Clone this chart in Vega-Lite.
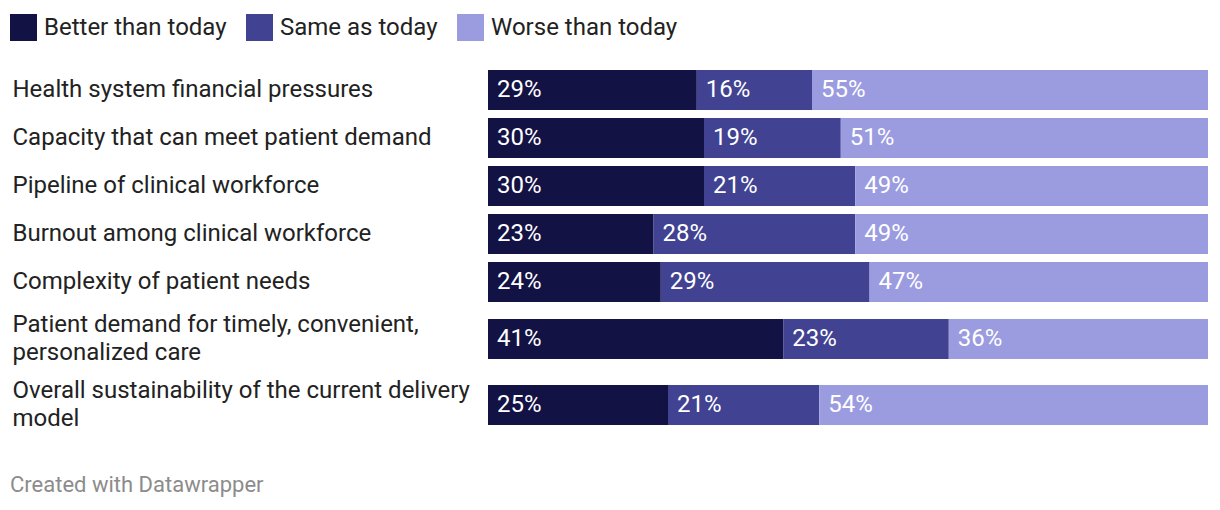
{
  "$schema": "https://vega.github.io/schema/vega-lite/v6.json",
  "padding": {"left": 10, "top": 14, "right": 12, "bottom": 10},
  "background": "white",
  "config": {
    "font": "Roboto",
    "view": {"stroke": null},
    "concat": {"spacing": 0}
  },
  "datasets": {
    "top": [
      {"question": "Health system financial pressures", "response": "Better than today", "value": 0.29},
      {"question": "Health system financial pressures", "response": "Same as today", "value": 0.16},
      {"question": "Health system financial pressures", "response": "Worse than today", "value": 0.55},
      {"question": "Capacity that can meet patient demand", "response": "Better than today", "value": 0.30},
      {"question": "Capacity that can meet patient demand", "response": "Same as today", "value": 0.19},
      {"question": "Capacity that can meet patient demand", "response": "Worse than today", "value": 0.51},
      {"question": "Pipeline of clinical workforce", "response": "Better than today", "value": 0.30},
      {"question": "Pipeline of clinical workforce", "response": "Same as today", "value": 0.21},
      {"question": "Pipeline of clinical workforce", "response": "Worse than today", "value": 0.49},
      {"question": "Burnout among clinical workforce", "response": "Better than today", "value": 0.23},
      {"question": "Burnout among clinical workforce", "response": "Same as today", "value": 0.28},
      {"question": "Burnout among clinical workforce", "response": "Worse than today", "value": 0.49},
      {"question": "Complexity of patient needs", "response": "Better than today", "value": 0.24},
      {"question": "Complexity of patient needs", "response": "Same as today", "value": 0.29},
      {"question": "Complexity of patient needs", "response": "Worse than today", "value": 0.47}
    ],
    "bottom": [
      {"question": "Patient demand for timely, convenient,|personalized care", "response": "Better than today", "value": 0.41},
      {"question": "Patient demand for timely, convenient,|personalized care", "response": "Same as today", "value": 0.23},
      {"question": "Patient demand for timely, convenient,|personalized care", "response": "Worse than today", "value": 0.36},
      {"question": "Overall sustainability of the current delivery|model", "response": "Better than today", "value": 0.25},
      {"question": "Overall sustainability of the current delivery|model", "response": "Same as today", "value": 0.21},
      {"question": "Overall sustainability of the current delivery|model", "response": "Worse than today", "value": 0.54}
    ]
  },
  "title": {
    "text": "Created with Datawrapper",
    "orient": "bottom",
    "anchor": "start",
    "frame": "bounds",
    "fontSize": 22,
    "fontWeight": "normal",
    "color": "#8c8c8c",
    "offset": 37
  },
  "vconcat": [
    {
      "data": {"name": "top"},
      "width": 720,
      "height": 240,
      "transform": [
        {"stack": "value", "groupby": ["question"], "sort": [{"field": "response", "order": "ascending"}], "as": ["x0", "x1"]}
      ],
      "encoding": {
        "y": {
          "field": "question", "type": "nominal", "sort": null,
          "scale": {"paddingInner": 0.16667, "paddingOuter": 0.08333},
          "axis": {
            "title": null, "domain": false, "ticks": false,
            "labelAlign": "left", "labelPadding": 476, "labelFontSize": 24,
            "labelColor": "#222222", "labelLimit": 480, "labelLineHeight": 28,
            "labelExpr": "split(datum.label, '|')", "labelBaseline": "middle"
          }
        }
      },
      "layer": [
        {
          "mark": {"type": "bar"},
          "encoding": {
            "x": {"field": "x0", "type": "quantitative", "scale": {"domain": [0, 1], "nice": false}, "axis": null},
            "x2": {"field": "x1"},
            "color": {
              "field": "response", "type": "nominal",
              "scale": {"domain": ["Better than today", "Same as today", "Worse than today"], "range": ["#131244", "#414291", "#9b9be0"]},
              "legend": {
                "title": null, "orient": "none", "legendX": -478, "legendY": -52,
                "direction": "horizontal", "symbolType": "square", "symbolSize": 729,
                "symbolStrokeWidth": 0, "symbolOpacity": 1, "labelFontSize": 24,
                "labelColor": "#222222", "labelOffset": 7, "columnPadding": 19, "labelLimit": 400
              }
            }
          }
        },
        {
          "mark": {"type": "text", "align": "left", "baseline": "middle", "dx": 9, "color": "white", "fontSize": 24},
          "encoding": {
            "x": {"field": "x0", "type": "quantitative"},
            "text": {"field": "value", "type": "quantitative", "format": ".0%"}
          }
        }
      ]
    },
    {
      "data": {"name": "bottom"},
      "width": 720,
      "height": 132,
      "transform": [
        {"stack": "value", "groupby": ["question"], "sort": [{"field": "response", "order": "ascending"}], "as": ["x0", "x1"]}
      ],
      "encoding": {
        "y": {
          "field": "question", "type": "nominal", "sort": null,
          "scale": {"paddingInner": 0.39394, "paddingOuter": 0.19697},
          "axis": {
            "title": null, "domain": false, "ticks": false,
            "labelAlign": "left", "labelPadding": 476, "labelFontSize": 24,
            "labelColor": "#222222", "labelLimit": 480, "labelLineHeight": 28,
            "labelExpr": "split(datum.label, '|')", "labelBaseline": "middle",
            "labelOffset": -14
          }
        }
      },
      "layer": [
        {
          "mark": {"type": "bar"},
          "encoding": {
            "x": {"field": "x0", "type": "quantitative", "scale": {"domain": [0, 1], "nice": false}, "axis": null},
            "x2": {"field": "x1"},
            "color": {"field": "response", "type": "nominal"}
          }
        },
        {
          "mark": {"type": "text", "align": "left", "baseline": "middle", "dx": 9, "color": "white", "fontSize": 24},
          "encoding": {
            "x": {"field": "x0", "type": "quantitative"},
            "text": {"field": "value", "type": "quantitative", "format": ".0%"}
          }
        }
      ]
    }
  ]
}
